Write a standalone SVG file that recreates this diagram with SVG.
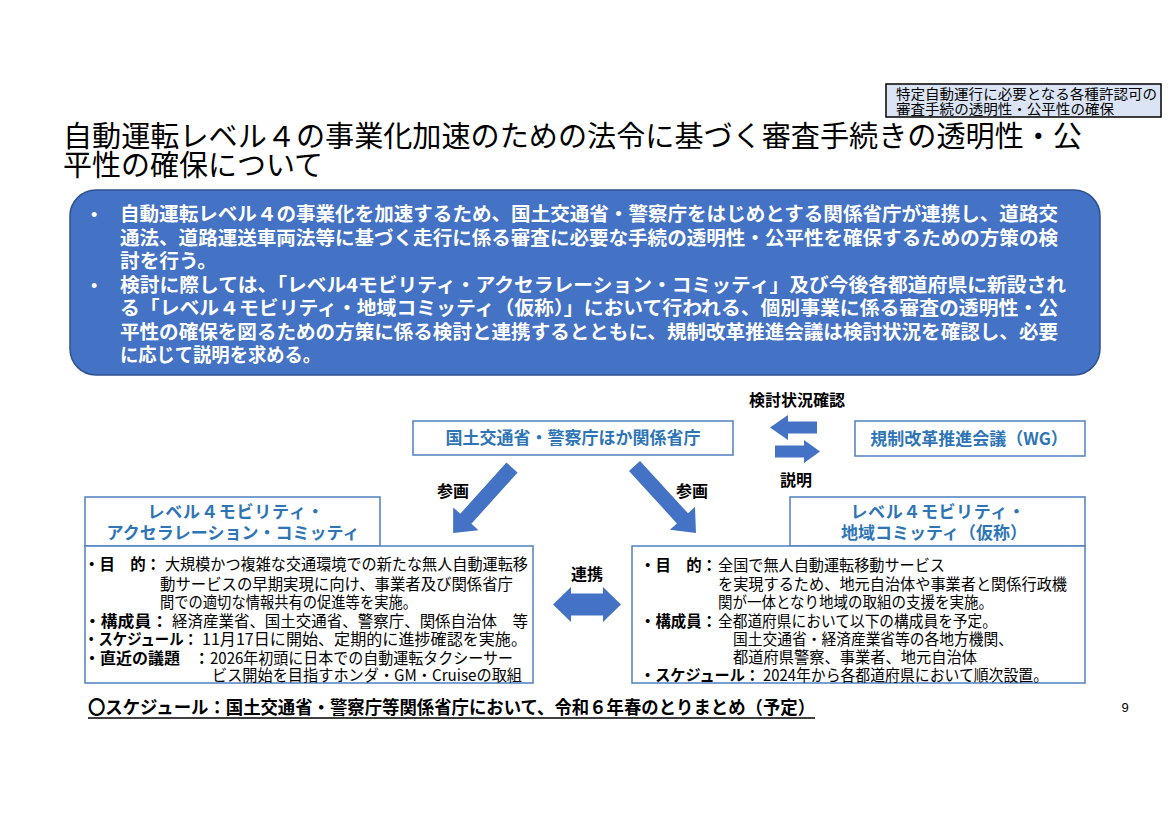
<svg xmlns="http://www.w3.org/2000/svg" width="1170" height="827" viewBox="0 0 1170 827">
<style>
text{font-family:"Noto Sans CJK JP","Noto Sans CJK SC",sans-serif;}
.ttl{font-size:29px;fill:#000;}
.tag{font-size:14px;fill:#000;}
.wb{font-size:19px;font-weight:bold;fill:#fff;}
.nb{font-size:17px;font-weight:bold;fill:#2e75b6;}
.lbl{font-size:16px;font-weight:bold;fill:#000;}
.ct{font-size:15.5px;fill:#000;}
.cb{font-size:15.5px;font-weight:bold;fill:#000;}
.box{fill:#fff;stroke:#4f80c0;stroke-width:1.5;}
.arr{fill:#4472c4;}
</style>
<rect width="1170" height="827" fill="#fff"/>

<g id="tag">
<rect x="886" y="84" width="275" height="33" fill="#dbe4f4" stroke="#000" stroke-width="1.5"/>
<text class="tag" x="896" y="98.5" textLength="261" lengthAdjust="spacingAndGlyphs">特定自動運行に必要となる各種許認可の</text>
<text class="tag" x="896" y="113.5" textLength="218" lengthAdjust="spacingAndGlyphs">審査手続の透明性・公平性の確保</text>
</g>

<g id="title">
<text class="ttl" x="63" y="147" textLength="1019" lengthAdjust="spacingAndGlyphs">自動運転レベル４の事業化加速のための法令に基づく審査手続きの透明性・公</text>
<text class="ttl" x="63" y="176" textLength="260" lengthAdjust="spacingAndGlyphs">平性の確保について</text>
</g>

<g id="summary">
<rect x="70" y="190" width="1030" height="185" rx="26" fill="#4472c4" stroke="#2f528f" stroke-width="1.5"/>
<text x="91" y="221" style="font-family:'Liberation Sans',sans-serif;font-size:18px;fill:#fff;">•</text>
<text x="91" y="292" style="font-family:'Liberation Sans',sans-serif;font-size:18px;fill:#fff;">•</text>
<text class="wb" x="120" y="221" textLength="938" lengthAdjust="spacingAndGlyphs">自動運転レベル４の事業化を加速するため、国土交通省・警察庁をはじめとする関係省庁が連携し、道路交</text>
<text class="wb" x="120" y="245" textLength="938" lengthAdjust="spacingAndGlyphs">通法、道路運送車両法等に基づく走行に係る審査に必要な手続の透明性・公平性を確保するための方策の検</text>
<text class="wb" x="120" y="268" textLength="97" lengthAdjust="spacingAndGlyphs">討を行う。</text>
<text class="wb" x="120" y="292" textLength="946" lengthAdjust="spacingAndGlyphs">検討に際しては、「レベル4モビリティ・アクセラレーション・コミッティ」及び今後各都道府県に新設され</text>
<text class="wb" x="120" y="315" textLength="938" lengthAdjust="spacingAndGlyphs">る「レベル４モビリティ・地域コミッティ（仮称）」において行われる、個別事業に係る審査の透明性・公</text>
<text class="wb" x="120" y="339" textLength="938" lengthAdjust="spacingAndGlyphs">平性の確保を図るための方策に係る検討と連携するとともに、規制改革推進会議は検討状況を確認し、必要</text>
<text class="wb" x="120" y="362" textLength="201" lengthAdjust="spacingAndGlyphs">に応じて説明を求める。</text>
</g>

<g id="connectors">
<polygon class="arr" transform="translate(512,467.5) rotate(132)" points="0,-7.5 69,-7.5 69,-17 88,0 69,17 69,7.5 0,7.5"/>
<polygon class="arr" transform="translate(634.5,466) rotate(47.5)" points="0,-7.5 71,-7.5 71,-17 91,0 71,17 71,7.5 0,7.5"/>
<polygon class="arr" points="770,427.5 788,415 788,421.5 817,421.5 817,433.5 788,433.5 788,440"/>
<polygon class="arr" points="775,445.5 804,445.5 804,440 820,451.5 804,463 804,457.5 775,457.5"/>
<polygon class="arr" points="553,604.5 571,587 571,593.5 603,593.5 603,587 621,604.5 603,622 603,615.5 571,615.5 571,622"/>
<text class="lbl" x="797" y="406" text-anchor="middle">検討状況確認</text>
<text class="lbl" x="796" y="486" text-anchor="middle">説明</text>
<text class="lbl" x="453" y="497" text-anchor="middle">参画</text>
<text class="lbl" x="692" y="497" text-anchor="middle">参画</text>
<text class="lbl" x="587" y="580" text-anchor="middle">連携</text>
</g>

<g id="ministries">
<rect class="box" x="413" y="421" width="320" height="34"/>
<text class="nb" x="573" y="444" text-anchor="middle">国土交通省・警察庁ほか関係省庁</text>
</g>

<g id="council">
<rect class="box" x="855" y="421" width="230" height="35"/>
<text class="nb" x="969" y="444.5" text-anchor="middle">規制改革推進会議（WG）</text>
</g>

<g id="accel-committee">
<rect class="box" x="85" y="497" width="295" height="49"/>
<text class="nb" x="236" y="518" text-anchor="middle" letter-spacing="0.8">レベル４モビリティ・</text>
<text class="nb" x="233" y="538.5" text-anchor="middle">アクセラレーション・コミッティ</text>
<rect class="box" x="85" y="546" width="448" height="137"/>
<text class="cb" x="84" y="570" textLength="77" lengthAdjust="spacingAndGlyphs">・目　的：</text>
<text class="ct" x="165" y="570" textLength="363" lengthAdjust="spacingAndGlyphs">大規模かつ複雑な交通環境での新たな無人自動運転移</text>
<text class="ct" x="160" y="590" textLength="353" lengthAdjust="spacingAndGlyphs">動サービスの早期実現に向け、事業者及び関係省庁</text>
<text class="ct" x="160" y="608" textLength="257" lengthAdjust="spacingAndGlyphs">間での適切な情報共有の促進等を実施。</text>
<text class="cb" x="84" y="627" textLength="84" lengthAdjust="spacingAndGlyphs">・構成員：</text>
<text class="ct" x="172" y="627" textLength="356" lengthAdjust="spacingAndGlyphs">経済産業省、国土交通省、警察庁、関係自治体　等</text>
<text class="cb" x="84" y="645" textLength="114" lengthAdjust="spacingAndGlyphs">・スケジュール：</text>
<text class="ct" x="202" y="645" textLength="325" lengthAdjust="spacingAndGlyphs">11月17日に開始、定期的に進捗確認を実施。</text>
<text class="cb" x="84" y="664" textLength="96" lengthAdjust="spacingAndGlyphs">・直近の議題</text>
<text class="cb" x="194" y="664">：</text>
<text class="ct" x="210" y="664" textLength="303" lengthAdjust="spacingAndGlyphs">2026年初頭に日本での自動運転タクシーサー</text>
<text class="ct" x="212" y="681" textLength="310" lengthAdjust="spacingAndGlyphs">ビス開始を目指すホンダ・GM・Cruiseの取組</text>
</g>

<g id="regional-committee">
<rect class="box" x="790" y="497" width="295" height="49"/>
<text class="nb" x="938" y="518" text-anchor="middle" letter-spacing="0.6">レベル４モビリティ・</text>
<text class="nb" x="934" y="538.5" text-anchor="middle">地域コミッティ（仮称）</text>
<rect class="box" x="632" y="546" width="453" height="137"/>
<text class="cb" x="640" y="571" textLength="77" lengthAdjust="spacingAndGlyphs">・目　的：</text>
<text class="ct" x="718" y="571" textLength="227" lengthAdjust="spacingAndGlyphs">全国で無人自動運転移動サービス</text>
<text class="ct" x="718" y="590" textLength="349" lengthAdjust="spacingAndGlyphs">を実現するため、地元自治体や事業者と関係行政機</text>
<text class="ct" x="718" y="608" textLength="275" lengthAdjust="spacingAndGlyphs">関が一体となり地域の取組の支援を実施。</text>
<text class="cb" x="640" y="627" textLength="77" lengthAdjust="spacingAndGlyphs">・構成員：</text>
<text class="ct" x="718" y="627" textLength="279" lengthAdjust="spacingAndGlyphs">全都道府県において以下の構成員を予定。</text>
<text class="ct" x="733" y="645" textLength="280" lengthAdjust="spacingAndGlyphs">国土交通省・経済産業省等の各地方機関、</text>
<text class="ct" x="733" y="663" textLength="244" lengthAdjust="spacingAndGlyphs">都道府県警察、事業者、地元自治体</text>
<text class="cb" x="640" y="681" textLength="120" lengthAdjust="spacingAndGlyphs">・スケジュール：</text>
<text class="ct" x="763" y="681" textLength="285" lengthAdjust="spacingAndGlyphs">2024年から各都道府県において順次設置。</text>
</g>

<g id="schedule">
<text x="88" y="714" style="font-size:18px;font-weight:bold;fill:#000;" textLength="727" lengthAdjust="spacingAndGlyphs">〇スケジュール：国土交通省・警察庁等関係省庁において、令和６年春のとりまとめ（予定）</text>
<line x1="88" y1="718" x2="815" y2="718" stroke="#000" stroke-width="1.5"/>
</g>

<g id="page-number">
<text x="1125" y="712" style="font-family:'Liberation Sans',sans-serif;font-size:13px;fill:#000;" text-anchor="middle">9</text>
</g>
</svg>
